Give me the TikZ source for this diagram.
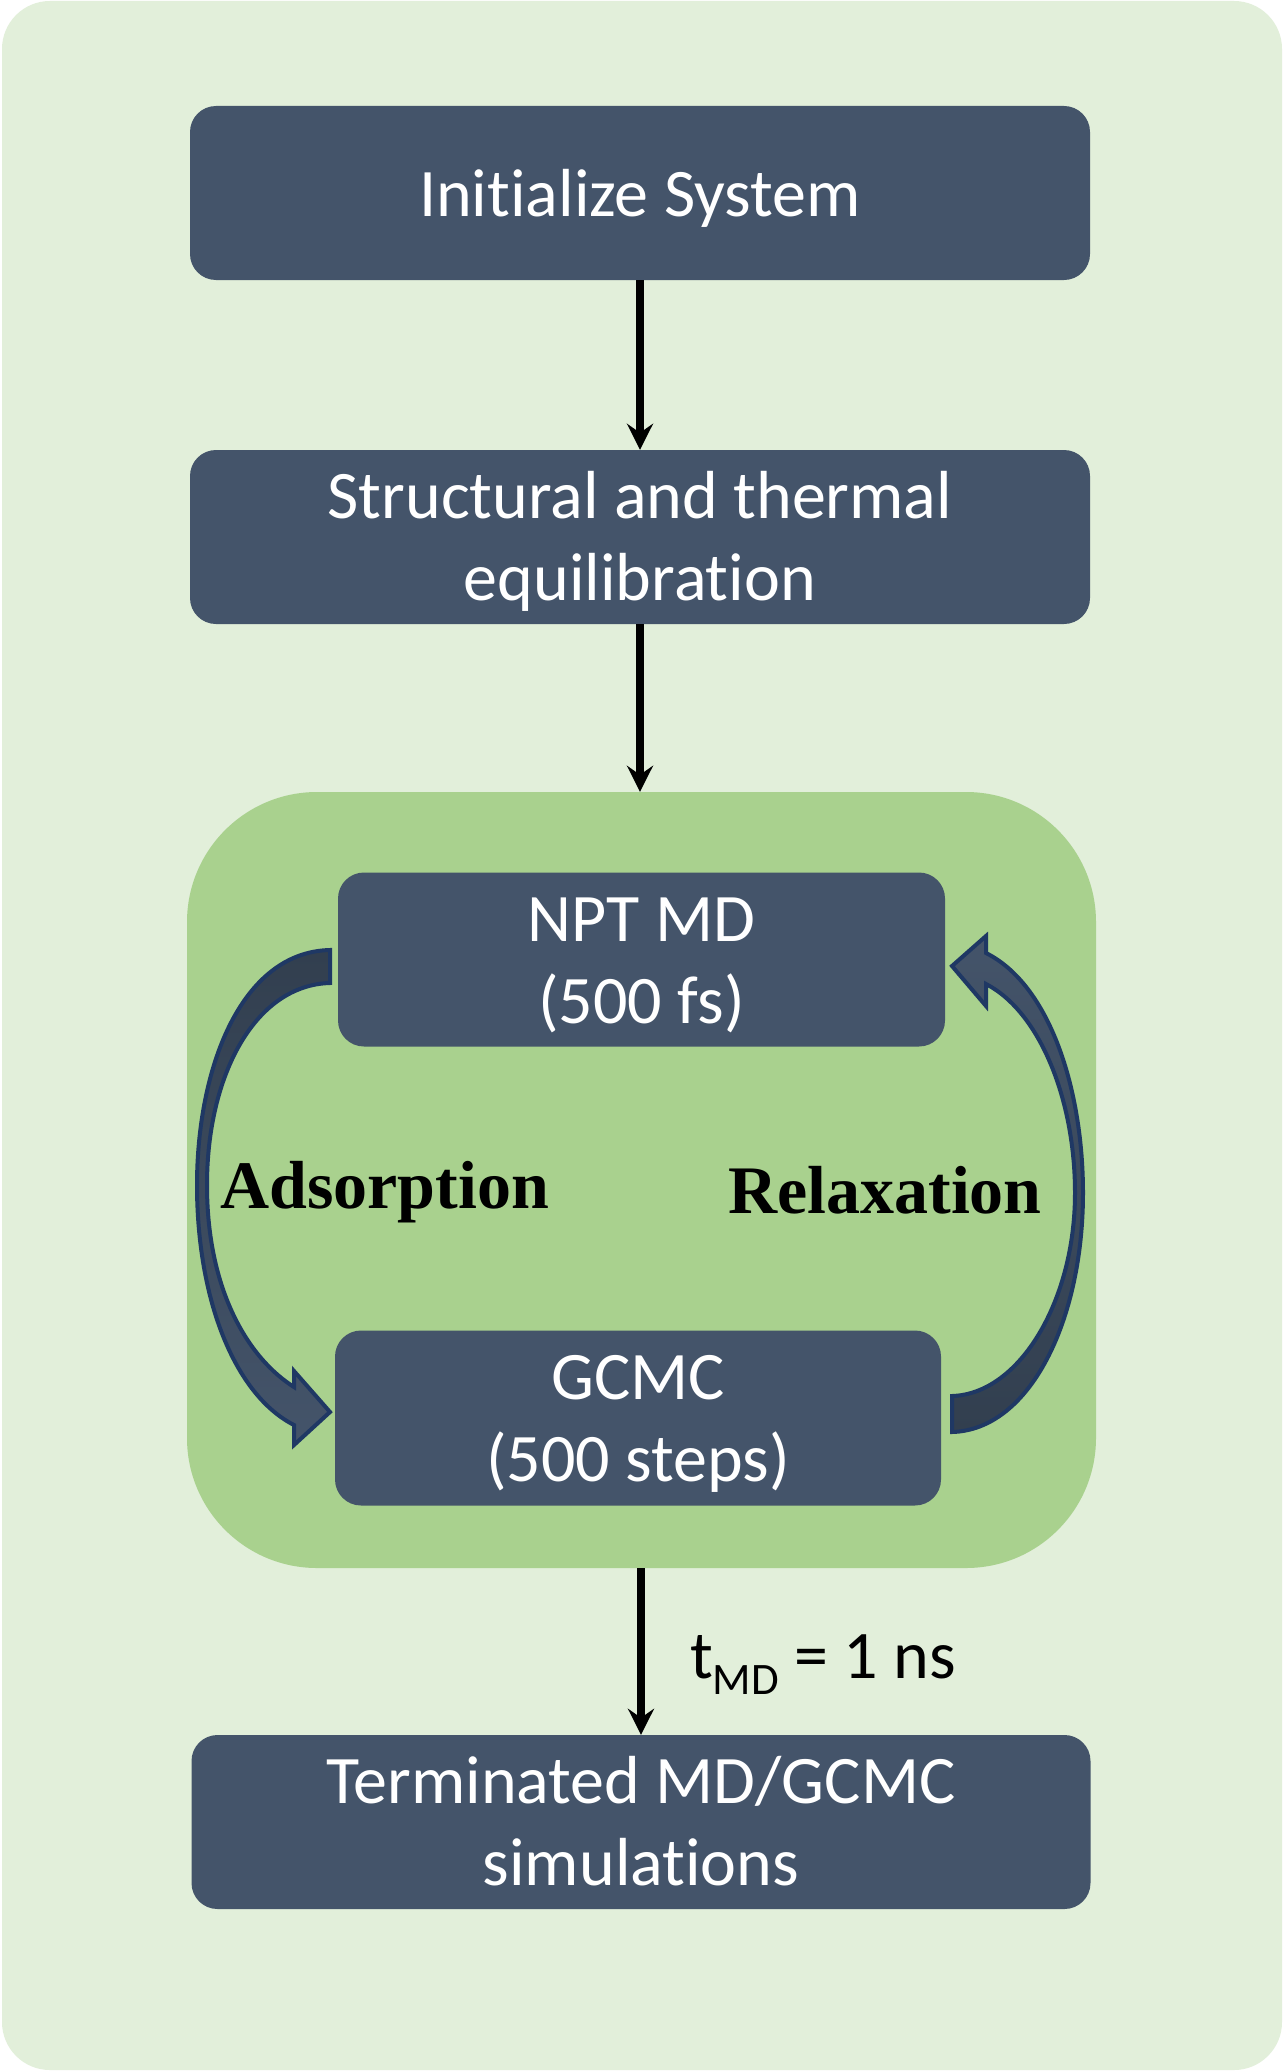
\documentclass[tikz,border=0pt]{standalone}
\usepackage{fontspec}
\setmainfont{Carlito}[Ligatures=NoCommon]
\newfontfamily\tnr{Liberation Serif}
\usetikzlibrary{arrows.meta}
\definecolor{bgout}{HTML}{E2EFDA}
\definecolor{bgin}{HTML}{A9D18E}
\definecolor{boxc}{HTML}{44546A}
\definecolor{arrdark}{HTML}{323F4F}
\definecolor{arrline}{HTML}{1F3864}
\begin{document}
\begin{tikzpicture}[x=1pt,y=-1pt,
  stepbox/.style={draw=none, fill=boxc, rounded corners=26pt, text=white, align=center, inner sep=0pt,
    font=\fontsize{68}{82}\selectfont,
    execute at end node={\rule[-16pt]{0pt}{16pt}}},
  oneline/.style={stepbox, execute at begin node={\rule{0pt}{62pt}}},
  twoline/.style={stepbox, execute at begin node={\rule{0pt}{143pt}}},
  flow/.style={line width=8pt, -{Stealth[length=26pt,width=26pt,inset=9pt]}},
  curvarrow/.style={draw=arrline, line width=4pt, line join=miter},
  lbl/.style={font=\tnr\bfseries\fontsize{68}{80}\selectfont, inner sep=0pt, anchor=base west}
]
\useasboundingbox (0,0) rectangle (1283,2071);
\fill[white] (0,0) rectangle (1283,2071);
\fill[bgout, rounded corners=48pt] (2,1) rectangle (1282,2070);
\node[fill=bgin, rounded corners=130pt, minimum width=909pt, minimum height=776pt, inner sep=0pt] (loop) at (641.5,1180) {};

\node[oneline, minimum width=900pt, minimum height=174pt] (init) at (640,193) {Initialize System};
\node[twoline, minimum width=900pt, minimum height=174pt] (equil) at (640,537) {Structural and thermal\\equilibration};
\node[twoline, minimum width=607pt, minimum height=174pt] (npt) at (641.5,959.5) {NPT MD\\(500 fs)};
\node[twoline, minimum width=606pt, minimum height=175pt] (gcmc) at (638,1418) {GCMC\\(500 steps)};
\node[twoline, minimum width=899pt, minimum height=174pt] (term) at (641,1822) {Terminated MD/GCMC\\simulations};

\draw[flow] (init.south) -- (equil.north);
\draw[flow] (equil.south) -- (equil.south |- loop.north);
\draw[flow] (loop.south -| term.north) -- (term.north);

\node[font=\fontsize{68}{80}\selectfont, inner sep=0pt, anchor=base west] (tmd) at (690,1678) {t\raisebox{-16pt}{\fontsize{45}{52}\selectfont MD} = 1 ns};

% Adsorption curved arrow (NPT -> GCMC)
\draw[curvarrow, top color=arrdark, bottom color=boxc]
  (330,950) .. controls (240,952) and (197,1070) .. (197,1185)
  .. controls (197,1300) and (235,1395) .. (294,1425)
  -- (294,1445) -- (330,1412) -- (294,1371) -- (294,1387)
  .. controls (248,1358) and (207,1290) .. (207,1185)
  .. controls (207,1075) and (255,985) .. (330,983) -- cycle;

% Relaxation curved arrow (GCMC -> NPT)
\draw[curvarrow, top color=boxc, bottom color=arrdark]
  (952,1432) .. controls (1030,1430) and (1083,1320) .. (1083,1193)
  .. controls (1083,1090) and (1050,985) .. (986,953)
  -- (986,936) -- (952,966) -- (986,1006) -- (986,984)
  .. controls (1040,1012) and (1075,1100) .. (1075,1193)
  .. controls (1075,1300) and (1020,1394) .. (952,1396) -- cycle;

\node[lbl] (ads) at (220,1208) {Adsorption};
\node[lbl] (rel) at (728,1213) {Relaxation};
\end{tikzpicture}
\end{document}
